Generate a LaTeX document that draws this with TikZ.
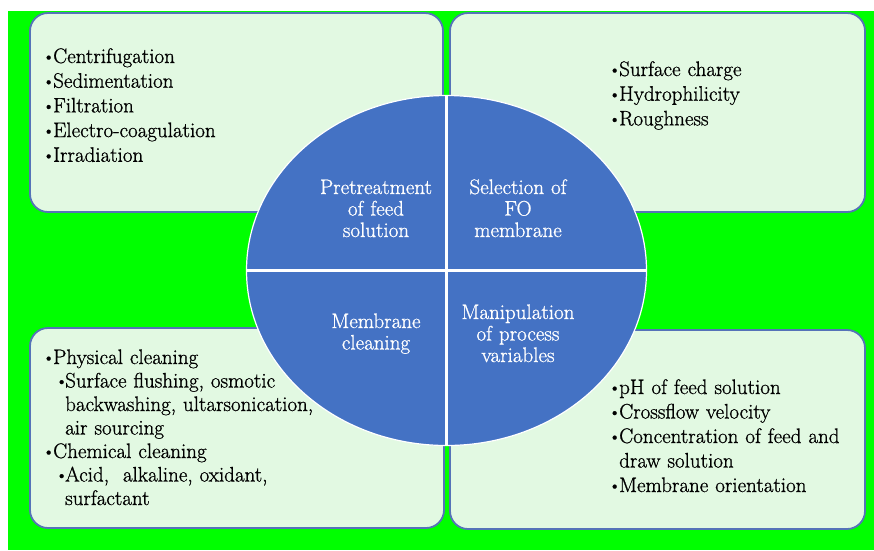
\documentclass[tikz,border=0pt]{standalone}
\usepackage{fontspec}
\setmainfont{Latin Modern Roman}[FakeBold=0.9]
\usetikzlibrary{shapes.geometric}
\definecolor{bggreen}{HTML}{00FF00}
\definecolor{panelfill}{HTML}{E2F9E2}
\definecolor{paneledge}{HTML}{5573B8}
\definecolor{hubblue}{HTML}{4472C4}
% bullet in a fixed-width box, and matching indent for wrapped lines
\newcommand\bulletdot{\raisebox{0.6pt}{\fontsize{18}{18}\selectfont\textbullet}}
\newcommand\bul{\makebox[11pt][l]{\bulletdot}}
\newcommand\sbul{\hspace*{13pt}\makebox[10pt][l]{\bulletdot}}
\newcommand\ind{\hspace*{11pt}}
\newcommand\sind{\hspace*{23pt}}
\begin{document}
\begin{tikzpicture}[x=1pt,y=-1pt,
  panel/.style={draw=paneledge, line width=1.8pt, fill=panelfill, rounded corners=18pt},
  listtext/.style={anchor=base west, align=left, inner sep=0pt, text width=#1,
    font=\fontsize{21}{24.7}\selectfont},
  quarter/.style={anchor=base, align=center, inner sep=0pt, text width=150pt,
    text=white, font=\fontsize{21}{21.5}\selectfont}]
\useasboundingbox (0,0) rectangle (874,550);
\fill[white] (0,0) rectangle (874,550);
\fill[bggreen] (8,11) rectangle (874,550);

% four panels
\draw[panel] (30,13) rectangle (443,212);
\draw[panel] (450,13) rectangle (865,212);
\draw[panel] (30,328) rectangle (444,528);
\draw[panel] (450,330) rectangle (865,529);

% central disc split into quarters
\node[ellipse, fill=hubblue, draw=white, line width=1.2pt, inner sep=0pt,
  minimum width=400pt, minimum height=350pt] (hub) at (446.5,270.5) {};
\draw[white, line width=3pt] (hub.north) -- (hub.south);
\draw[white, line width=3pt] (hub.west) -- (hub.east);

% quarter labels
\node[quarter] (q1) at (376,194) {Pretreatment\\of feed\\solution};
\node[quarter] (q2) at (518,194) {Selection of\\FO\\membrane};
\node[quarter] (q3) at (376,328) {Membrane\\cleaning};
\node[quarter] (q4) at (518,319) {Manipulation\\of process\\variables};

% panel lists
\node[listtext=380pt] (l1) at (42,63) {\bul Centrifugation\\\bul Sedimentation\\\bul Filtration\\\bul Electro-coagulation\\\bul Irradiation};
\node[listtext=240pt] (l2) at (608,76) {\bul Surface charge\\\bul Hydrophilicity\\\bul Roughness};
\node[listtext=380pt, font=\fontsize{21}{23.5}\selectfont] (l3) at (42,364)
  {\bul Physical cleaning\\\sbul Surface flushing, osmotic\\\sind backwashing, ultarsonication,\\\sind air sourcing\\\bul Chemical cleaning\\\sbul Acid,\ \ alkaline, oxidant,\\\sind surfactant};
\node[listtext=250pt, font=\fontsize{21}{24.5}\selectfont] (l4) at (608,394)
  {\bul pH of feed solution\\\bul Crossflow velocity\\\bul Concentration of feed and\\\ind draw solution\\\bul Membrane orientation};
\end{tikzpicture}
\end{document}
